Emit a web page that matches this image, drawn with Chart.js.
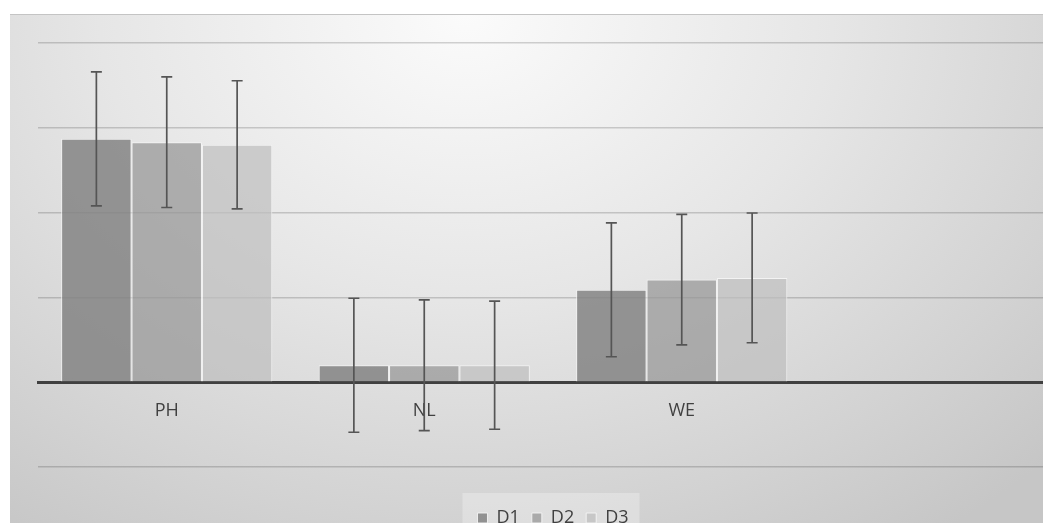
<!DOCTYPE html>
<html lang="en">
<head>
    <meta charset="UTF-8">
    <title>D1 / D2 / D3 by group</title>
    <style>
        html, body { margin: 0; padding: 0; background: #fff; overflow: hidden; width: 1043px; height: 523px; }
        .frame {
            position: absolute;
            left: 10px;
            top: 14px;
            width: 1086px;
            height: 530px;
            border-top: 1px solid #c4c4c4;
            background: radial-gradient(ellipse 75% 120% at 42% 0%, #fbfbfb 0%, #e6e6e6 45%, #d2d2d2 80%, #c6c6c6 100%);
        }
        .frame canvas { display: block; }
    </style>
</head>
<body>

<div class="frame">
    <canvas id="groupChart" width="1086" height="530"></canvas>
</div>

<script src="https://cdn.jsdelivr.net/npm/chart.js"></script>
<script>
    // categories (last slot is empty, as in the source sheet)
    const groups = ['PH', 'NL', 'WE', ''];

    // bar heights
    const d1Values = [2.87, 0.20, 1.09, null];
    const d2Values = [2.83, 0.20, 1.21, null];
    const d3Values = [2.80, 0.20, 1.23, null];

    // error bar half widths
    const d1Errors = [0.79, 0.79, 0.79, null];
    const d2Errors = [0.77, 0.77, 0.77, null];
    const d3Errors = [0.755, 0.755, 0.765, null];

    const seriesNames = ['D1', 'D2', 'D3'];
    const seriesColors = ['rgba(128,128,128,0.82)', 'rgba(150,150,150,0.72)', 'rgba(190,190,190,0.7)'];

    // draws the lighter box behind the legend
    const legendBox = {
        id: 'legendBox',
        beforeDraw(chart) {
            const lg = chart.legend;
            if (!lg || !lg.legendHitBoxes.length) return;
            const boxes = lg.legendHitBoxes;
            const first = boxes[0], last = boxes[boxes.length - 1];
            const ctx = chart.ctx;
            ctx.save();
            ctx.fillStyle = 'rgba(255,255,255,0.28)';
            ctx.fillRect(first.left - 15, first.top - 16, (last.left + last.width) - first.left + 26, 60);
            ctx.restore();
        }
    };

    // error bars drawn through the y scale
    const errorBars = {
        id: 'errorBars',
        afterDatasetsDraw(chart) {
            const ctx = chart.ctx;
            const y = chart.scales.y;
            ctx.save();
            ctx.strokeStyle = '#555';
            ctx.lineWidth = 1.7;
            chart.data.datasets.forEach((ds, i) => {
                const meta = chart.getDatasetMeta(i);
                meta.data.forEach((bar, j) => {
                    const v = ds.data[j], e = ds.errors[j];
                    if (v == null || e == null) return;
                    const yTop = y.getPixelForValue(v + e);
                    const yBot = y.getPixelForValue(v - e);
                    const x = bar.x;
                    ctx.beginPath();
                    ctx.moveTo(x, yTop); ctx.lineTo(x, yBot);
                    ctx.moveTo(x - 5.5, yTop); ctx.lineTo(x + 5.5, yTop);
                    ctx.moveTo(x - 5.5, yBot); ctx.lineTo(x + 5.5, yBot);
                    ctx.stroke();
                });
            });
            ctx.restore();
        }
    };

    const ctx = document.getElementById('groupChart').getContext('2d');
    new Chart(ctx, {
        type: 'bar',
        data: {
            labels: groups,
            datasets: [
                { label: seriesNames[0], data: d1Values, errors: d1Errors, backgroundColor: seriesColors[0] },
                { label: seriesNames[1], data: d2Values, errors: d2Errors, backgroundColor: seriesColors[1] },
                { label: seriesNames[2], data: d3Values, errors: d3Errors, backgroundColor: seriesColors[2] }
            ].map(ds => Object.assign(ds, {
                borderColor: 'rgba(245,245,245,0.9)',
                borderWidth: 1,
                categoryPercentage: 0.82,
                barPercentage: 1
            }))
        },
        options: {
            responsive: false,
            animation: false,
            layout: { padding: { left: 28, right: 28, top: 28, bottom: 8 } },
            plugins: {
                tooltip: { enabled: false },
                legend: {
                    position: 'bottom',
                    labels: {
                        boxWidth: 10,
                        boxHeight: 10,
                        padding: 12,
                        color: '#404040',
                        font: { family: "'Open Sans', sans-serif", size: 18 }
                    }
                }
            },
            scales: {
                x: {
                    position: { y: 0 },
                    grid: { display: false, drawTicks: false },
                    border: { display: true, color: '#404040', width: 3 },
                    ticks: {
                        padding: 18,
                        color: '#404040',
                        font: { family: "'Open Sans', sans-serif", size: 18 }
                    }
                },
                // empty band between the plot and the legend
                gap: {
                    type: 'category',
                    axis: 'x',
                    position: 'bottom',
                    grid: { display: false, drawTicks: false },
                    border: { display: false },
                    ticks: { display: false },
                    afterFit(scale) { scale.height = 30; }
                },
                y: {
                    min: -1,
                    max: 4,
                    ticks: { display: false, stepSize: 1 },
                    grid: { color: 'rgba(0,0,0,0.17)', lineWidth: 1.6, drawTicks: false },
                    border: { display: false }
                }
            }
        },
        plugins: [legendBox, errorBars]
    });
</script>

</body>
</html>
